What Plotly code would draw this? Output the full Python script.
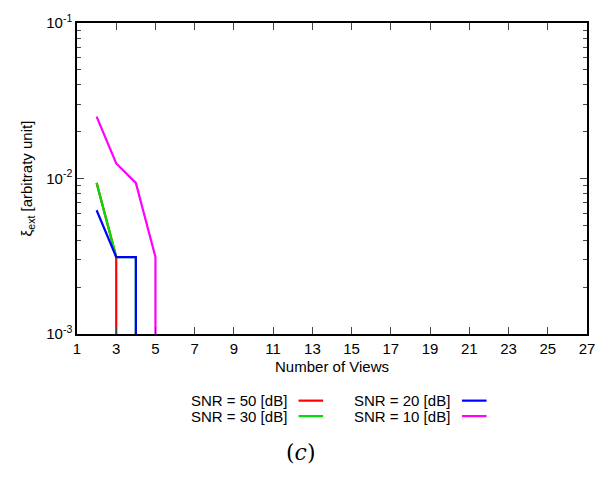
import plotly.graph_objects as go

# Data (value k/320), the final tiny value marks the drop to zero (below log range)
x_snr50 = [2, 3, 3]
y_snr50 = [0.009375, 0.003125, 1e-9]
x_snr30 = [2, 3, 4, 4]
y_snr30 = [0.009375, 0.003125, 0.003125, 1e-9]
x_snr20 = [2, 3, 4, 4]
y_snr20 = [0.00625, 0.003125, 0.003125, 1e-9]
x_snr10 = [2, 3, 4, 5, 5]
y_snr10 = [0.025, 0.0125, 0.009375, 0.003125, 1e-9]

series_names = ["SNR = 50 [dB]", "SNR = 30 [dB]", "SNR = 20 [dB]", "SNR = 10 [dB]"]
series_colors = ["#ff0000", "#00e000", "#0000ff", "#ff00ff"]
xs = [x_snr50, x_snr30, x_snr20, x_snr10]
ys = [y_snr50, y_snr30, y_snr20, y_snr10]

x_ticks = list(range(1, 28, 2))
y_ticks = [1e-3, 1e-2, 1e-1]
y_ticktext = ["10<sup>-3</sup>", "10<sup>-2</sup>", "10<sup>-1</sup>"]
y_minor = [m * 10 ** e for e in (-3, -2) for m in range(2, 10)]

fig = go.Figure()
for x, y, n, c in zip(xs, ys, series_names, series_colors):
    fig.add_trace(go.Scatter(x=x, y=y, mode="lines", name=n,
                             line=dict(color=c, width=2.2), showlegend=False))

FAM = "Liberation Sans, Arial, sans-serif"
font = dict(family=FAM, size=15, color="black")

L, R, T, B = 77, 595, 12, 334
fig.update_layout(
    width=607, height=477,
    margin=dict(l=L, r=607 - R, t=T, b=477 - B),
    plot_bgcolor="white", paper_bgcolor="white",
    font=font,
    xaxis=dict(range=[1, 27], tickvals=x_ticks, ticks="inside", ticklen=7,
               tickwidth=1, tickcolor="#444", showline=True, linecolor="black",
               linewidth=1.5, mirror="ticks", showgrid=False, zeroline=False,
               title=dict(text="Number of Views", standoff=6, font=font),
               tickfont=dict(family=FAM, size=15, color="black")),
    yaxis=dict(type="log", range=[-3, -1], tickvals=y_ticks, ticktext=y_ticktext,
               ticks="inside", ticklen=7, tickwidth=1, tickcolor="#444",
               showline=True, linecolor="black", linewidth=1.5, mirror="ticks",
               showgrid=False, zeroline=False,
               minor=dict(tickvals=y_minor, ticks="inside", ticklen=4,
                          tickcolor="#444", showgrid=False),
               title=dict(text="ξ<sub>ext</sub> [arbitraty unit]", standoff=10, font=font),
               tickfont=dict(family=FAM, size=15, color="black")),
)

def px(x):
    return (x - L) / (R - L)

def py(y):
    return (B - y) / (B - T)

# Legend drawn below the plot: text followed by a line sample
leg_pos = [(292, 403), (292, 419), (458, 403), (458, 419)]
for (tx, ty), n, c in zip(leg_pos, series_names, series_colors):
    fig.add_annotation(x=px(tx), y=py(ty), xref="paper", yref="paper",
                       text=n, showarrow=False, xanchor="right", yanchor="middle",
                       font=dict(family=FAM, size=15, color="black"))
    fig.add_shape(type="line", xref="paper", yref="paper",
                  x0=px(tx + 10), x1=px(tx + 35), y0=py(ty), y1=py(ty),
                  line=dict(color=c, width=2.2))

fig.add_annotation(x=px(305), y=py(457), xref="paper", yref="paper",
                   text="(<i>c</i>)", showarrow=False, xanchor="center", yanchor="middle",
                   font=dict(family="DejaVu Serif, Liberation Serif, serif", size=22, color="black"))

fig.write_html("out.html")
